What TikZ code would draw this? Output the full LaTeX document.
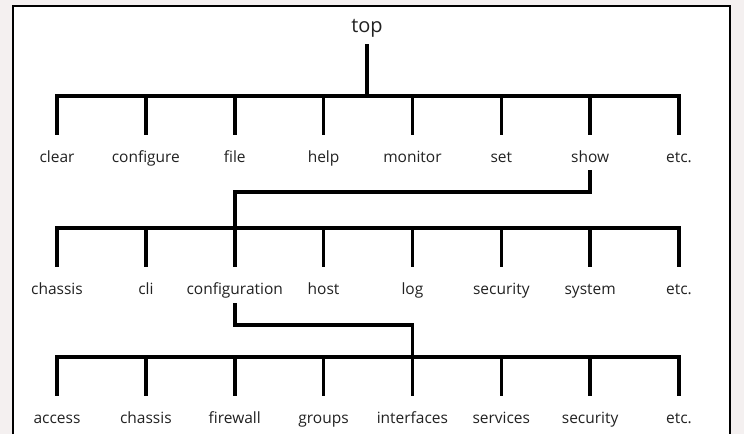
\documentclass[tikz,border=0pt]{standalone}
\usepackage{fontspec}
\setmainfont{Open Sans}
\usetikzlibrary{positioning}
\definecolor{bggray}{HTML}{F4F0F0}
\definecolor{txt}{HTML}{222222}
\tikzset{
	%Estils dels nodes i de les línies de l'arbre
	cmd/.style = {font=\fontsize{15.5}{18}\selectfont, text=txt,
                  inner sep=0pt, text height=11pt, text depth=4pt,
                  text centered},
	root/.style = {cmd, font=\fontsize{20}{23}\selectfont,
                  text height=14pt, text depth=5pt},
	lnk/.style = {line width=3.6pt}
}

\begin{document}
\begin{tikzpicture}[x=1pt, y=1pt, node distance=88.86pt]
		\fill[bggray] (0,0) rectangle (744,434);
		\fill[white] (13,0) rectangle (730,428);
		\draw[line width=1.5pt] (13,0) -- (13,428) -- (730,428) -- (730,0);
		\useasboundingbox (0,0) rectangle (744,434);

		\node (top) [root] at (367,406) {top};

		% primer nivell
		\node (clr) [cmd] at (57,275) {clear};
		\node (cfg) [cmd, right of=clr] {configure};
		\node (fil) [cmd, right of=cfg] {file};
		\node (hlp) [cmd, right of=fil] {help};
		\node (mon) [cmd, right of=hlp] {monitor};
		\node (set) [cmd, right of=mon] {set};
		\node (sho) [cmd, right of=set] {show};
		\node (et1) [cmd, right of=sho] {etc.};

		% segon nivell
		\node (chs) [cmd] at (57,143) {chassis};
		\node (cli) [cmd, right of=chs] {cli};
		\node (cnf) [cmd, right of=cli] {configuration};
		\node (hst) [cmd, right of=cnf] {host};
		\node (log) [cmd, right of=hst] {log};
		\node (sec) [cmd, right of=log] {security};
		\node (sys) [cmd, right of=sec] {system};
		\node (et2) [cmd, right of=sys] {etc.};

		% tercer nivell
		\node (acc) [cmd] at (57,14) {access};
		\node (ch3) [cmd, right of=acc] {chassis};
		\node (fwl) [cmd, right of=ch3] {firewall};
		\node (grp) [cmd, right of=fwl] {groups};
		\node (ifc) [cmd, right of=grp] {interfaces};
		\node (svc) [cmd, right of=ifc] {services};
		\node (se3) [cmd, right of=svc] {security};
		\node (et3) [cmd, right of=se3] {etc.};

		\draw[lnk] (top.south) ++(0,-6.5) -- ++(0,-52);
		\draw[lnk] ([yshift=16.5pt]clr.north) -- ++(0,39) -| ([yshift=16.5pt]et1.north);
		\draw[lnk] ([yshift=16.5pt]cfg.north) -- ++(0,39);
		\draw[lnk] ([yshift=16.5pt]fil.north) -- ++(0,39);
		\draw[lnk] ([yshift=16.5pt]hlp.north) -- ++(0,39);
		\draw[lnk] ([yshift=16.5pt]mon.north) -- ++(0,39);
		\draw[lnk] ([yshift=16.5pt]set.north) -- ++(0,39);
		\draw[lnk] ([yshift=16.5pt]sho.north) -- ++(0,39);

		\draw[lnk] ([yshift=-3.5pt]sho.south) -- ++(0,-22) -| ([yshift=55.5pt]cnf.north);
		\draw[lnk] ([yshift=16.5pt]chs.north) -- ++(0,39) -| ([yshift=16.5pt]et2.north);
		\draw[lnk] ([yshift=16.5pt]cli.north) -- ++(0,39);
		\draw[lnk] ([yshift=16.5pt]cnf.north) -- ++(0,39);
		\draw[lnk] ([yshift=16.5pt]hst.north) -- ++(0,39);
		\draw[lnk] ([yshift=16.5pt]log.north) -- ++(0,39);
		\draw[lnk] ([yshift=16.5pt]sec.north) -- ++(0,39);
		\draw[lnk] ([yshift=16.5pt]sys.north) -- ++(0,39);

		\draw[lnk] ([yshift=-4.5pt]cnf.south) -- ++(0,-22) -| ([yshift=55.5pt]ifc.north);
		\draw[lnk] ([yshift=16.5pt]acc.north) -- ++(0,39) -| ([yshift=16.5pt]et3.north);
		\draw[lnk] ([yshift=16.5pt]ch3.north) -- ++(0,39);
		\draw[lnk] ([yshift=16.5pt]fwl.north) -- ++(0,39);
		\draw[lnk] ([yshift=16.5pt]grp.north) -- ++(0,39);
		\draw[lnk] ([yshift=16.5pt]ifc.north) -- ++(0,39);
		\draw[lnk] ([yshift=16.5pt]svc.north) -- ++(0,39);
		\draw[lnk] ([yshift=16.5pt]se3.north) -- ++(0,39);
	\end{tikzpicture}
\end{document}
